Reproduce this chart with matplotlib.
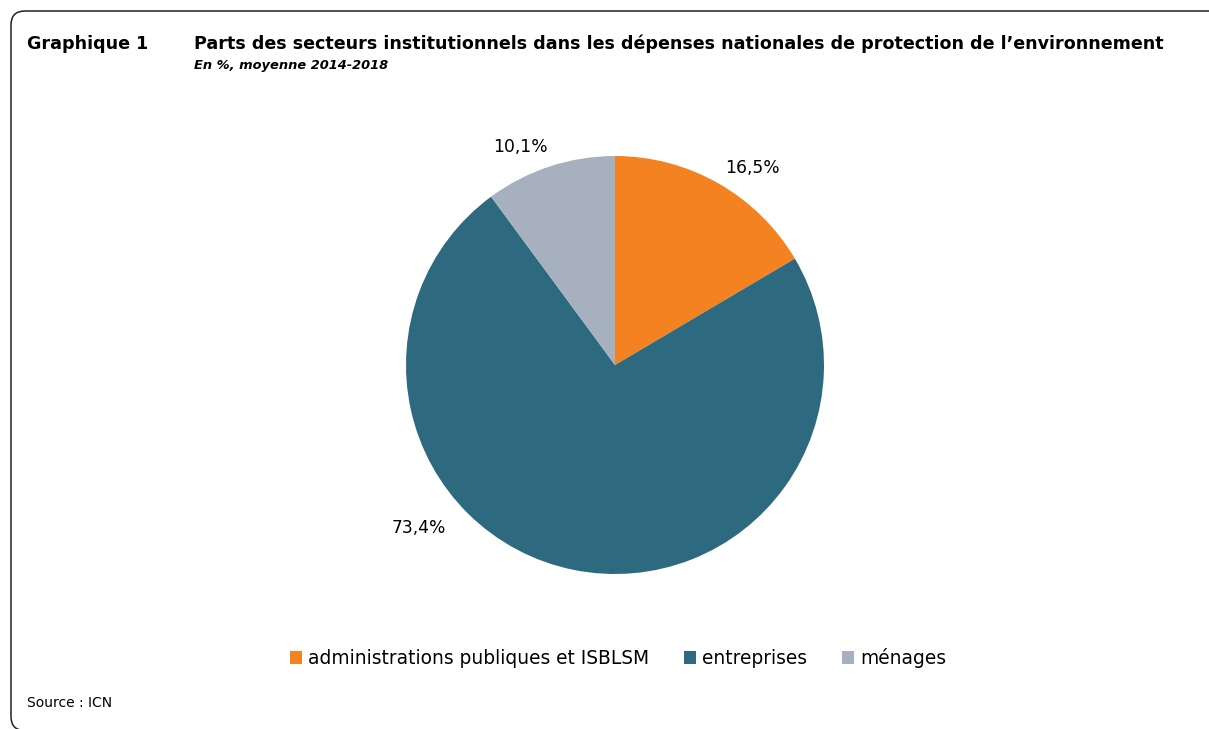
import matplotlib
matplotlib.use('Agg')
import matplotlib.pyplot as plt
import numpy as np
from matplotlib.patches import FancyBboxPatch, Patch

plt.rcParams['font.family'] = ['DejaVu Sans']

# data
categories = ['administrations publiques et ISBLSM', 'entreprises', 'ménages']
shares = [16.5, 73.4, 10.1]
colors = ['#F58220', '#2E6A7F', '#A6B0BE']
label_angles = [55.2, 219.7, 113.5]   # label placement (deg), excel "best fit"
label_dists = [1.15, 1.22, 1.14]

title = 'Parts des secteurs institutionnels dans les dépenses nationales de protection de l\u2019environnement'
subtitle = 'En %, moyenne 2014-2018'

fig = plt.figure(figsize=(12.09, 7.29), dpi=100)

# frame around the graphic
frame = FancyBboxPatch((0.11, -0.015), 12.5, 7.195, boxstyle='round,pad=0,rounding_size=0.14',
                       transform=fig.dpi_scale_trans, facecolor='none', edgecolor='#222222',
                       linewidth=1.1, clip_on=False)
fig.patches.append(frame)

fig.text(27 / 1209, 1 - 44 / 729, 'Graphique 1', fontsize=12.6, fontweight='bold', va='center', ha='left')
fig.text(194 / 1209, 1 - 44 / 729, title, fontsize=12.6, fontweight='bold', va='center', ha='left')
fig.text(194 / 1209, 1 - 65 / 729, subtitle, fontsize=9.4, fontweight='bold', style='italic',
         va='center', ha='left')
fig.text(27 / 1209, 1 - 703 / 729, 'Source : ICN', fontsize=10, va='center', ha='left')

ax = fig.add_axes([406 / 1209, (729 - 574) / 729, 418 / 1209, 418 / 729])
wedges, _ = ax.pie(shares, colors=colors, startangle=90, counterclock=False,
                   wedgeprops={'linewidth': 0})
ax.set_xlim(-1, 1)
ax.set_ylim(-1, 1)
ax.set_aspect('equal')
ax.axis('off')

for v, a, d in zip(shares, label_angles, label_dists):
    t = np.deg2rad(a)
    ax.text(d * np.cos(t), d * np.sin(t), f'{v:.1f}%'.replace('.', ','),
            fontsize=12.3, ha='center', va='center', clip_on=False)

handles = [Patch(facecolor=c, edgecolor='none') for c in colors]
fig.legend(handles, categories, loc='center', bbox_to_anchor=(618 / 1209, 1 - 658 / 729), ncol=3,
           frameon=False, fontsize=13.4, handlelength=0.65, handleheight=0.65,
           handletextpad=0.3, columnspacing=1.9)

fig.savefig('out.png', dpi=100)
